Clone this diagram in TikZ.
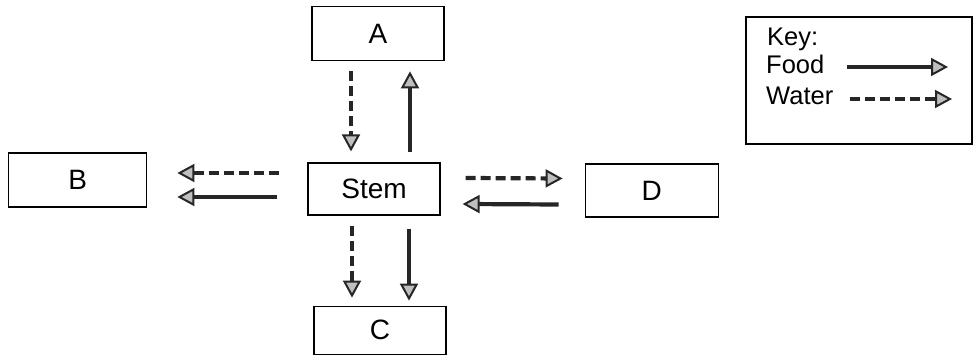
\documentclass[tikz,border=0pt]{standalone}
\usepackage{fontspec}
\setmainfont{Liberation Sans}
\usetikzlibrary{positioning,arrows.meta}
\tikzstyle{box}=[draw, line width=1.2pt, minimum width=132pt, minimum height=52pt, font=\fontsize{28}{32}\selectfont]
\tikzstyle{food}=[draw=black!85, line width=4.2pt, -{Triangle[length=17pt,width=18pt,fill=gray!50,line width=2pt]}]
\tikzstyle{water}=[food, dash pattern=on 10pt off 5pt]
\tikzstyle{keytext}=[anchor=base west, inner sep=0pt, font=\fontsize{25.5}{30}\selectfont]

\begin{document}
\begin{tikzpicture}
    \useasboundingbox (0pt,0pt) rectangle (975pt,-355pt);
    \node[box] (s) at (374pt,-189pt) {Stem};
    \node[box,minimum height=54pt] (a) [above = 101pt of s, xshift=4pt] {A};
    \node[box,minimum width=138pt,minimum height=54pt] (b) [left = 160pt of s, yshift=9pt] {B};
    \node[box,minimum width=133pt,minimum height=53pt] (d) [right = 144pt of s, yshift=-1.5pt] {D};
    \node[box,minimum height=48pt] (c) [below = 90pt of s, xshift=6pt] {C};
    \draw[water]([xshift=-27pt,yshift=-10pt]a.south) -- ([xshift=-23pt,yshift=11pt]s.north);
    \draw[food]([xshift=36pt,yshift=10pt]s.north) -- ([xshift=32pt,yshift=-10pt]a.south);
    \draw[water]([xshift=-28pt,yshift=16pt]s.west) -- ([xshift=30pt,yshift=7pt]b.east);
    \draw[food]([xshift=-30pt,yshift=-8pt]s.west) -- ([xshift=30pt,yshift=-17pt]b.east);
    \draw[water]([xshift=25pt,yshift=11pt]s.east) -- ([xshift=-22pt,yshift=12pt]d.west);
    \draw[food]([xshift=-26pt,yshift=-14pt]d.west) -- ([xshift=22pt,yshift=-15pt]s.east);
    \draw[water]([xshift=-22pt,yshift=-10pt]s.south) -- ([xshift=-28pt,yshift=8pt]c.north);
    \draw[food]([xshift=35pt,yshift=-13pt]s.south) -- ([xshift=29pt,yshift=5pt]c.north);

    % key
    \node[draw,line width=1.2pt,minimum width=226pt,minimum height=127pt] (key) at (859pt,-80.5pt) {};
    \node[keytext] (k) at (767pt,-46pt) {Key:};
    \node[keytext] (f) at (766pt,-74pt) {Food};
    \node[keytext] (w) at (766pt,-105pt) {Water};
    \coordinate (fs) at (847pt,-67pt);
    \coordinate (fe) at (948pt,-67pt);
    \coordinate (ws) at (850pt,-99pt);
    \coordinate (we) at (952pt,-99pt);
    \draw[food](fs) -- (fe);
    \draw[water](ws) -- (we);
\end{tikzpicture}
\end{document}
